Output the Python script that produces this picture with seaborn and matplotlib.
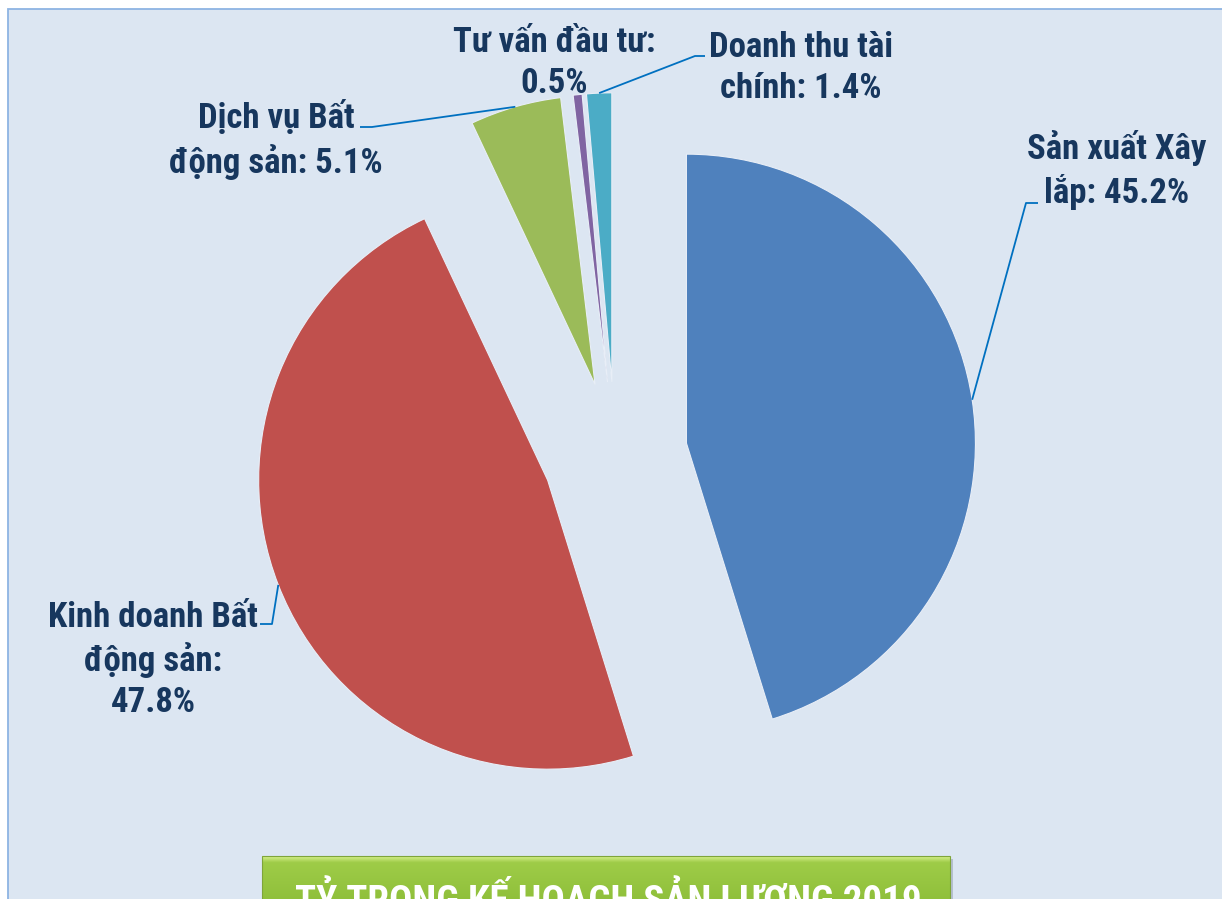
import numpy as np
import matplotlib
matplotlib.use("Agg")
import matplotlib.pyplot as plt
import seaborn as sns
from matplotlib import font_manager
from matplotlib.patches import Rectangle

# ---------------- data ----------------
categories = ["Sản xuất Xây lắp", "Kinh doanh Bất động sản", "Dịch vụ Bất động sản",
              "Tư vấn đầu tư", "Doanh thu tài chính"]
values = [45.2, 47.8, 5.1, 0.5, 1.4]
# category names with the line breaks used in the labels
display_names = ["Sản xuất Xây\nlắp", "Kinh doanh Bất\nđộng sản", "Dịch vụ Bất\nđộng sản",
                 "Tư vấn đầu tư", "Doanh thu tài\nchính"]
value_sep = [" ", "\n", " ", "\n", " "]
title = "TỶ TRỌNG KẾ HOẠCH SẢN LƯỢNG 2019"
colors = ["#4F81BD", "#C0504D", "#9BBB59", "#8064A2", "#4BACC6"]

# ---------------- style ----------------
sns.set_theme(style="white")
available = {f.name for f in font_manager.fontManager.ttflist}
font_pref = ["Liberation Sans Narrow", "Roboto Condensed", "Open Sans Condensed",
             "Liberation Sans", "DejaVu Sans"]
main_font = next(f for f in font_pref if f in available)
plt.rcParams["font.family"] = [main_font, "DejaVu Sans"]

W, H = 1222, 899
fig = plt.figure(figsize=(W / 100, H / 100), dpi=100, facecolor="white")
ax = fig.add_axes([0, 0, 1, 1])
ax.set_xlim(0, W)
ax.set_ylim(0, H)
ax.axis("off")

def py(y):  # pixel row -> data y
    return H - y

# chart area frame
ax.add_patch(Rectangle((8, -20), W + 40, py(9) + 20, facecolor="#DCE6F2",
                       edgecolor="#8EB4E3", linewidth=1.3, zorder=0))

# ---------------- pie ----------------
radius = 289
center = (615, py(454))
explode = [0.25 * radius] * len(values)
wedges, _ = ax.pie(values, colors=colors, startangle=90, counterclock=False,
                   explode=explode, radius=radius, center=center,
                   wedgeprops=dict(linewidth=0.8, edgecolor="#E8EEF7"))
ax.set_xlim(0, W)
ax.set_ylim(0, H)
ax.set_aspect("equal")
for w in wedges:
    w.set_zorder(2)

label_color = "#17375E"
line_color = "#0070C0"
fs = 25

# label centers (pixel) and leader elbows (pixel) - layout only
label_pos = [(1117, 170), (153, 660), (276, 140), (554, 63), (801, 68)]
elbows = [[(1026, 203), (1038, 203)],
          [(272, 624), (260, 624)],
          [(372, 127), (360, 127)],
          None,
          [(695, 56), (705, 56)]]

for i, (w, val) in enumerate(zip(wedges, values)):
    txt = f"{display_names[i]}:{value_sep[i]}{val:.1f}%"
    x, y = label_pos[i]
    ax.text(x, py(y), txt, ha="center", va="center", multialignment="center",
            fontsize=fs, fontweight="bold", color=label_color, linespacing=1.3,
            zorder=5)
    if elbows[i] is not None:
        tm = np.deg2rad((w.theta1 + w.theta2) / 2)
        cx, cy = w.center
        ax_x = cx + w.r * np.cos(tm)
        ax_y = cy + w.r * np.sin(tm)
        xs = [ax_x] + [p[0] for p in elbows[i]]
        ys = [ax_y] + [py(p[1]) for p in elbows[i]]
        ax.plot(xs, ys, color=line_color, lw=1.3, zorder=4, solid_capstyle="butt")

# ---------------- title box ----------------
x0, x1 = 262, 950
ytop = py(856)
ybot = -10
grad = np.linspace(0, 1, 100)
c_top = np.array([0.84, 0.94, 0.55])
c_mid = np.array([0.62, 0.80, 0.28])
c_bot = np.array([0.55, 0.74, 0.22])
img = np.zeros((100, 2, 3))
for k, t in enumerate(grad):
    if t < 0.12:
        c = c_top + (c_mid - c_top) * (t / 0.12)
    else:
        c = c_mid + (c_bot - c_mid) * ((t - 0.12) / 0.88)
    img[k, :, :] = c
ax.add_patch(Rectangle((x0 + 3, ybot - 3), x1 - x0, ytop - ybot, facecolor="#9AA6B6",
                       edgecolor="none", alpha=0.6, zorder=6))
ax.imshow(img, extent=(x0, x1, ybot, ytop), aspect="auto", zorder=7, interpolation="bilinear")
ax.add_patch(Rectangle((x0, ybot), x1 - x0, ytop - ybot, facecolor="none",
                       edgecolor="#7FA53A", linewidth=0.8, zorder=8))
ax.text((x0 + x1) / 2 + 2, py(913), title, ha="center", va="baseline", fontsize=28,
        fontweight="bold", color="white", zorder=9)
ax.set_xlim(0, W)
ax.set_ylim(0, H)

fig.savefig("out.png", dpi=100, facecolor="white")
